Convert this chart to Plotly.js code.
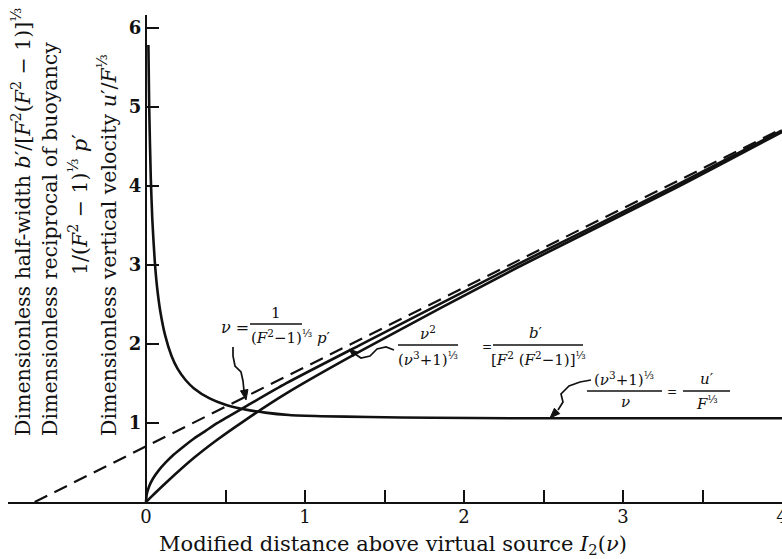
<!DOCTYPE html>
<html>
<head>
<meta charset="utf-8">
<script src="https://cdn.plot.ly/plotly-3.0.1.min.js"></script>
<style>
  html, body { margin: 0; padding: 0; background: #fff; }
  #chart { width: 782px; height: 559px; }
</style>
</head>
<body>
<div id="chart"></div>
<script>
// Line plume similarity solution: three curves against the modified distance I2(nu)

// reciprocal of buoyancy, nu
const nuX = [0, 0.005, 0.02, 0.045, 0.08, 0.124, 0.175, 0.235, 0.30, 0.375, 0.45, 0.62, 0.88, 1.36, 2.33, 3.33, 4.0];
const nuY = [0, 0.10, 0.20, 0.30, 0.40, 0.50, 0.60, 0.70, 0.80, 0.90, 1.00, 1.20, 1.50, 2.00, 3.00, 4.00, 4.70];

// half-width b'
const widthX = [0, 0.005, 0.02, 0.124, 0.30, 0.45, 0.62, 0.88, 1.36, 2.33, 3.33, 4.0];
const widthY = [0, 0.01, 0.04, 0.24, 0.555, 0.79, 1.03, 1.37, 1.92, 2.96, 3.97, 4.68];

// vertical velocity u'
const velX = [0.015, 0.02, 0.03, 0.04, 0.055, 0.07, 0.09, 0.12, 0.16, 0.20, 0.25, 0.30, 0.40, 0.50, 0.60, 0.75, 0.90, 1.10, 1.40, 1.80, 2.30, 3.00, 4.00];
const velY = [5.78, 5.00, 4.10, 3.56, 3.05, 2.71, 2.41, 2.11, 1.85, 1.68, 1.54, 1.44, 1.31, 1.23, 1.18, 1.13, 1.10, 1.085, 1.075, 1.065, 1.06, 1.06, 1.06];

// straight asymptote (dashed)
const asymX = [-0.70, 4.0];
const asymY = [0, 4.72];

// axis ticks
const xTickVals = [0, 0.5, 1, 1.5, 2, 2.5, 3, 3.5, 4];
const xTickText = ['0', '', '1', '', '2', '', '3', '', '4'];
const yTickVals = [1, 2, 3, 4, 5, 6];
const yTickText = ['1', '2', '3', '4', '5', '6'];

const INK = '#111';
const SERIF = 'DejaVu Serif, Liberation Serif, serif';

// plot box in pixels
const L = 8, R = 782, T = 15, B = 502;
const W = 782, H = 559;
const px = (x) => (x - L) / (R - L);
const py = (y) => (B - y) / (B - T);

function label(text, x, y, opts) {
  return Object.assign({
    text: text, x: px(x), y: py(y), xref: 'paper', yref: 'paper',
    showarrow: false, xanchor: 'center', yanchor: 'middle',
    font: { family: SERIF, size: 15, color: INK }
  }, opts || {});
}

function bar(x0, x1, y) {
  return { type: 'line', xref: 'paper', yref: 'paper',
           x0: px(x0), x1: px(x1), y0: py(y), y1: py(y),
           line: { color: INK, width: 1.4 } };
}

function squiggle(pts) {
  let d = 'M ' + px(pts[0][0]) + ',' + py(pts[0][1]);
  for (let i = 1; i < pts.length; i++) d += ' L ' + px(pts[i][0]) + ',' + py(pts[i][1]);
  return { type: 'path', xref: 'paper', yref: 'paper', path: d,
           line: { color: INK, width: 1.7 } };
}

function head(tip, from, size) {
  const dx = tip[0] - from[0], dy = tip[1] - from[1];
  const len = Math.hypot(dx, dy);
  const ux = dx / len, uy = dy / len;
  const bx = tip[0] - ux * size, by = tip[1] - uy * size;
  const w = size * 0.38;
  const a = [bx - uy * w, by + ux * w], b = [bx + uy * w, by - ux * w];
  const d = 'M ' + px(tip[0]) + ',' + py(tip[1]) +
            ' L ' + px(a[0]) + ',' + py(a[1]) +
            ' L ' + px(b[0]) + ',' + py(b[1]) + ' Z';
  return { type: 'path', xref: 'paper', yref: 'paper', path: d,
           fillcolor: INK, line: { color: INK, width: 1 } };
}

const traces = [
  { x: asymX, y: asymY, mode: 'lines', line: { color: INK, width: 2.2, dash: '14px,8px' }, hoverinfo: 'skip' },
  { x: nuX, y: nuY, mode: 'lines', line: { color: INK, width: 2.6, shape: 'spline', smoothing: 0.6 }, hoverinfo: 'skip' },
  { x: widthX, y: widthY, mode: 'lines', line: { color: INK, width: 2.6, shape: 'spline', smoothing: 0.6 }, hoverinfo: 'skip' },
  { x: velX, y: velY, mode: 'lines', line: { color: INK, width: 2.6, shape: 'spline', smoothing: 0.6 }, hoverinfo: 'skip' }
];

const arrow1 = [[233, 347], [233, 356], [235, 366], [241, 372], [243, 381], [244, 391]];
const arrow2 = [[394, 350], [386, 347], [377, 349], [370, 356], [361, 358], [355, 354]];
const arrow3 = [[591, 380], [580, 382], [569, 386], [561, 394], [563, 402], [558, 410]];

const TITLE_FONT = { family: SERIF, size: 20.5, color: INK };

const annotations = [
  // vertical axis titles
  label('Dimensionless half-width <i>b</i>′/[<i>F</i><sup>2</sup>(<i>F</i><sup>2</sup> − 1)]<sup>⅓</sup>', 21, 438,
        { textangle: -90, yanchor: 'bottom', font: TITLE_FONT }),
  label('Dimensionless reciprocal of buoyancy', 50, 438,
        { textangle: -90, yanchor: 'bottom', font: TITLE_FONT }),
  label('1/(<i>F</i><sup>2</sup> − 1)<sup>⅓</sup> <i>p</i>′', 78, 205,
        { textangle: -90, font: TITLE_FONT }),
  label('Dimensionless vertical velocity <i>u</i>′/<i>F</i><sup>⅓</sup>', 107, 438,
        { textangle: -90, yanchor: 'bottom', font: TITLE_FONT }),
  // horizontal axis title
  label('Modified distance above virtual source <i>I</i><sub>2</sub>(<i>ν</i>)', 393, 545,
        { font: { family: SERIF, size: 21, color: INK } }),

  // nu = 1 / ((F^2-1)^(1/3) p')
  label('<i>ν</i> =', 235, 327, { font: { family: SERIF, size: 16, color: INK } }),
  label('1', 276, 313),
  label('(<i>F</i><sup>2</sup>−1)<sup>⅓</sup> <i>p</i>′', 249, 337, { xanchor: 'left' }),

  // nu^2/(nu^3+1)^(1/3) = b'/[F^2(F^2-1)]^(1/3)
  label('<i>ν</i><sup>2</sup>', 428, 333),
  label('(<i>ν</i><sup>3</sup>+1)<sup>⅓</sup>', 428, 359),
  label('=', 487, 347, { font: { family: SERIF, size: 12, color: INK } }),
  label('<i>b</i>′', 536, 333),
  label('[<i>F</i><sup>2</sup> (<i>F</i><sup>2</sup>−1)]<sup>⅓</sup>', 538, 359),

  // (nu^3+1)^(1/3)/nu = u'/F^(1/3)
  label('(<i>ν</i><sup>3</sup>+1)<sup>⅓</sup>', 624, 379),
  label('<i>ν</i>', 625, 402),
  label('=', 672, 392, { font: { family: SERIF, size: 12, color: INK } }),
  label('<i>u</i>′', 707, 379),
  label('<i>F</i><sup>⅓</sup>', 707, 403)
];

const shapes = [
  bar(250, 302, 324),
  bar(398, 458, 345),
  bar(493, 583, 345),
  bar(587, 662, 391),
  bar(683, 730, 391),
  squiggle(arrow1), head([246, 400], [244, 389], 10),
  squiggle(arrow2), head([349, 349], [356, 355], 8),
  squiggle(arrow3), head([550, 418], [558, 410], 10)
];

const layout = {
  width: W, height: H,
  margin: { l: L, r: W - R, t: T, b: H - B, pad: 0 },
  paper_bgcolor: '#fff', plot_bgcolor: '#fff',
  showlegend: false,
  xaxis: {
    range: [-0.868, 4.0], showgrid: false, zeroline: false,
    showline: true, linecolor: INK, linewidth: 2,
    ticks: 'inside', ticklen: 12, tickwidth: 2, tickcolor: INK,
    tickmode: 'array', tickvals: xTickVals, ticktext: xTickText,
    ticklabeloverflow: 'allow', ticklabelstandoff: -3,
    tickfont: { family: SERIF, size: 18, color: INK }
  },
  yaxis: {
    range: [0, 6.16], showgrid: false, zeroline: false,
    anchor: 'free', position: px(146),
    showline: true, linecolor: INK, linewidth: 2,
    ticks: 'inside', ticklen: 12, tickwidth: 2, tickcolor: INK,
    tickmode: 'array', tickvals: yTickVals, ticktext: yTickText,
    tickfont: { family: SERIF, size: 18, color: INK, weight: 'bold' }
  },
  annotations: annotations,
  shapes: shapes
};

Plotly.newPlot('chart', traces, layout, { staticPlot: true, displayModeBar: false });
</script>
</body>
</html>
